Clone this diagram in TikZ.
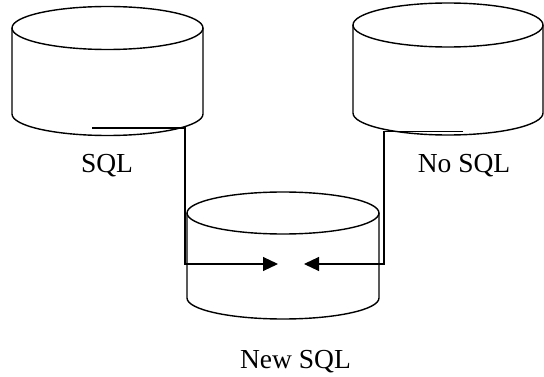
\documentclass[tikz,border=0pt]{standalone}
\usepackage{fontspec}
\setmainfont{Liberation Serif}
\usetikzlibrary{arrows.meta}

\begin{document}
\begin{tikzpicture}[x=1pt,y=-1pt,
  dbshape/.style={line width=1.4pt, line join=round},
  link/.style={line width=1.1pt},
  flow/.style={link, -{Triangle[length=15pt,width=14pt]}},
  lbl/.style={font=\fontsize{27.5}{32}\selectfont, anchor=base, inner sep=0pt}]
  \useasboundingbox (0,0) rectangle (544,377);

  % database cylinder: centre x, top ellipse centre y, radii, side height
  \newcommand{\dbcyl}[5]{%
    \draw[dbshape] (#1,#2) ellipse [x radius=#3, y radius=#4];
    \draw[dbshape] (#1-#3,#2) -- (#1-#3,#2+#5)
      arc[start angle=180, end angle=0, x radius=#3, y radius=#4]
      -- (#1+#3,#2);
  }

  \dbcyl{107.5}{28}{95.5}{21.5}{86}
  \dbcyl{448}{25}{95}{22}{88}
  \dbcyl{283}{213}{96}{21}{85}

  % labels
  \node[lbl] (sql)   at (107,172.5) {SQL};
  \node[lbl] (nosql) at (464,172.5) {No SQL};
  \node[lbl] (newsql) at (295.5,368.5) {New SQL};

  % connector end points
  \coordinate (lstart) at (92,128);
  \coordinate (lbend)  at (185,128);
  \coordinate (lin)    at (278,264);
  \coordinate (rstart) at (463,131.5);
  \coordinate (rbend)  at (384,131.5);
  \coordinate (rin)    at (304,264);

  \draw[flow] (lstart) -- (lbend) |- (lin);
  \draw[flow] (rstart) -- (rbend) |- (rin);
\end{tikzpicture}
\end{document}
